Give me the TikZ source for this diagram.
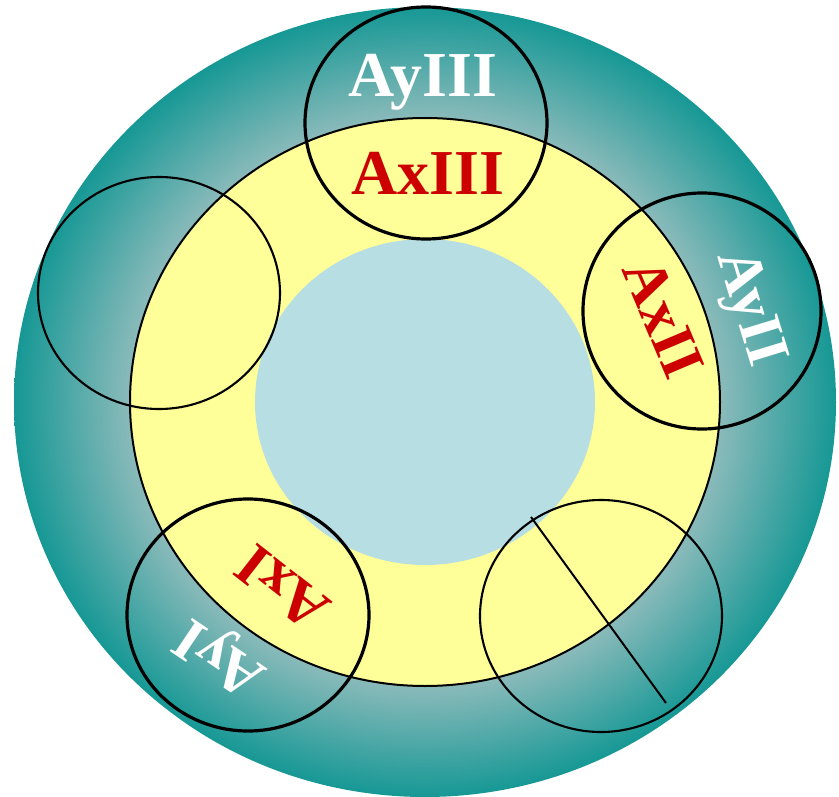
\documentclass[tikz,border=0pt]{standalone}
\usepackage{fontspec}
\setmainfont{Liberation Serif}
\definecolor{Teal}{RGB}{22,152,149}
\definecolor{LTeal}{RGB}{138,186,186}
\definecolor{Ring}{RGB}{255,255,153}
\definecolor{Core}{RGB}{183,223,227}
\definecolor{DRed}{RGB}{204,0,0}
\pgfdeclareradialshading{tealring}{\pgfpoint{0bp}{0bp}}{color(0bp)=(LTeal); color(18bp)=(LTeal); color(25bp)=(Teal); color(50bp)=(Teal)}
\tikzset{thinring/.style={draw=black, line width=2.1pt},
  thickring/.style={draw=black, line width=3.2pt},
  axlab/.style={text=DRed, inner sep=0pt, anchor=mid, font=\bfseries\fontsize{61}{61}\selectfont},
  aylab/.style={text=white, inner sep=0pt, anchor=mid, font=\bfseries\fontsize{61}{61}\selectfont}}

\begin{document}
\begin{tikzpicture}[x=1pt,y=-1pt]
\useasboundingbox (0,0) rectangle (839,797);

% rings
\shade[shading=tealring] (425,402) ellipse [x radius=411pt, y radius=395pt];
\filldraw[fill=Ring, line width=2pt] (425,402) ellipse [x radius=295pt, y radius=284pt];
\fill[Core] (425,402) ellipse [x radius=170pt, y radius=163pt];

% circles
\draw[thickring] (426,123) ellipse [x radius=121pt, y radius=116pt];
\draw[thickring] (702,311) ellipse [x radius=119pt, y radius=118pt];
\draw[thinring] (159,293) ellipse [x radius=121pt, y radius=116pt];
\draw[thickring] (248,615) ellipse [x radius=121pt, y radius=116pt];
\draw[thinring] (601,616) ellipse [x radius=121pt, y radius=116pt];

\coordinate (cut1) at (531,517);
\coordinate (cut2) at (666,703);
\draw[line width=2pt] (cut1) -- (cut2);

% labels
\node[aylab, anchor=base, font=\bfseries\fontsize{64}{64}\selectfont] (y3) at (423,97) {AyIII};
\node[axlab, anchor=base, font=\bfseries\fontsize{64}{64}\selectfont] (x3) at (428,195) {AxIII};
\node[axlab, rotate=-67] (x2) at (647,325) {AxII};
\node[aylab, rotate=-73] (y2) at (737,312) {AyII};
\node[axlab, rotate=142] (x1) at (293,574) {AxI};
\node[aylab, rotate=146] (y1) at (228,645) {AyI};

\end{tikzpicture}
\end{document}
